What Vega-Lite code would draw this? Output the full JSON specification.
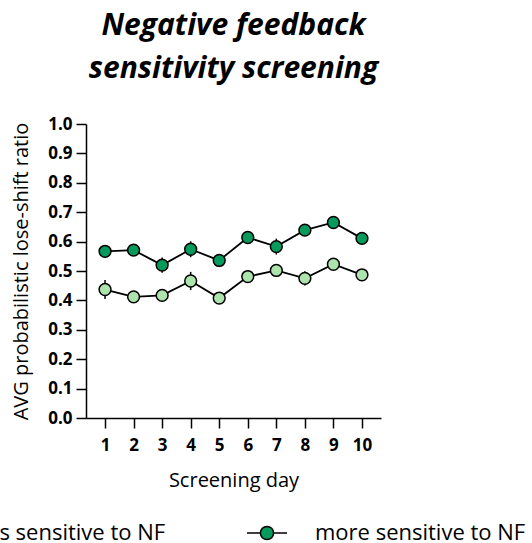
{
  "$schema": "https://vega.github.io/schema/vega-lite/v6.json",
  "autosize": "none",
  "width": 295,
  "height": 294,
  "padding": {"left": 86, "top": 124, "right": 151, "bottom": 125},
  "background": "white",
  "title": {
    "text": ["Negative feedback", "sensitivity screening"],
    "font": "Open Sans",
    "fontSize": 30,
    "fontWeight": "bold",
    "fontStyle": "italic",
    "lineHeight": 43,
    "anchor": "middle",
    "color": "black",
    "offset": 31
  },
  "config": {
    "view": {"stroke": null},
    "axis": {
      "domainColor": "black",
      "domainWidth": 1.5,
      "tickColor": "black",
      "tickWidth": 1.5,
      "tickSize": 10,
      "grid": false,
      "labelOverlap": false,
      "labelFont": "Open Sans",
      "labelFontWeight": "bold",
      "labelFontSize": 17,
      "labelColor": "black",
      "titleFont": "Open Sans",
      "titleFontWeight": "normal",
      "titleFontSize": 20,
      "titleColor": "black"
    }
  },
  "data": {
    "values": [
      {"day": 1, "group": "less sensitive to NF", "mean": 0.437, "lo": 0.405, "hi": 0.469},
      {"day": 2, "group": "less sensitive to NF", "mean": 0.412, "lo": 0.397, "hi": 0.427},
      {"day": 3, "group": "less sensitive to NF", "mean": 0.417, "lo": 0.401, "hi": 0.433},
      {"day": 4, "group": "less sensitive to NF", "mean": 0.466, "lo": 0.435, "hi": 0.497},
      {"day": 5, "group": "less sensitive to NF", "mean": 0.408, "lo": 0.393, "hi": 0.423},
      {"day": 6, "group": "less sensitive to NF", "mean": 0.481, "lo": 0.459, "hi": 0.503},
      {"day": 7, "group": "less sensitive to NF", "mean": 0.502, "lo": 0.486, "hi": 0.518},
      {"day": 8, "group": "less sensitive to NF", "mean": 0.475, "lo": 0.451, "hi": 0.499},
      {"day": 9, "group": "less sensitive to NF", "mean": 0.523, "lo": 0.506, "hi": 0.540},
      {"day": 10, "group": "less sensitive to NF", "mean": 0.487, "lo": 0.471, "hi": 0.503},
      {"day": 1, "group": "more sensitive to NF", "mean": 0.567, "lo": 0.549, "hi": 0.585},
      {"day": 2, "group": "more sensitive to NF", "mean": 0.571, "lo": 0.554, "hi": 0.588},
      {"day": 3, "group": "more sensitive to NF", "mean": 0.520, "lo": 0.494, "hi": 0.546},
      {"day": 4, "group": "more sensitive to NF", "mean": 0.574, "lo": 0.547, "hi": 0.601},
      {"day": 5, "group": "more sensitive to NF", "mean": 0.536, "lo": 0.516, "hi": 0.556},
      {"day": 6, "group": "more sensitive to NF", "mean": 0.614, "lo": 0.596, "hi": 0.632},
      {"day": 7, "group": "more sensitive to NF", "mean": 0.583, "lo": 0.556, "hi": 0.610},
      {"day": 8, "group": "more sensitive to NF", "mean": 0.639, "lo": 0.621, "hi": 0.657},
      {"day": 9, "group": "more sensitive to NF", "mean": 0.665, "lo": 0.648, "hi": 0.682},
      {"day": 10, "group": "more sensitive to NF", "mean": 0.611, "lo": 0.595, "hi": 0.627}
    ]
  },
  "encoding": {
    "x": {
      "field": "day",
      "type": "quantitative",
      "scale": {"domain": [0.333, 10.667], "nice": false, "zero": false},
      "axis": {
        "values": [1, 2, 3, 4, 5, 6, 7, 8, 9, 10],
        "format": "d",
        "labelPadding": 9,
        "title": "Screening day",
        "titlePadding": 17
      }
    }
  },
  "layer": [
    {
      "mark": {"type": "line", "color": "black", "strokeWidth": 1.8},
      "encoding": {
        "y": {
          "field": "mean",
          "type": "quantitative",
          "scale": {"domain": [0, 1], "nice": false},
          "axis": {
            "values": [0, 0.1, 0.2, 0.3, 0.4, 0.5, 0.6, 0.7, 0.8, 0.9, 1.0],
            "format": ".1f",
            "labelPadding": 4,
            "labelOverlap": false,
            "title": "AVG probabilistic lose-shift ratio",
            "titlePadding": 16
          }
        },
        "detail": {"field": "group"},
        "order": {"field": "day"}
      }
    },
    {
      "mark": {"type": "rule", "color": "black", "strokeWidth": 1.5},
      "encoding": {
        "y": {
          "field": "lo",
          "type": "quantitative",
          "scale": {"domain": [0, 1], "nice": false},
          "axis": {
            "values": [0, 0.1, 0.2, 0.3, 0.4, 0.5, 0.6, 0.7, 0.8, 0.9, 1.0],
            "format": ".1f",
            "labelPadding": 4,
            "labelOverlap": false,
            "title": "AVG probabilistic lose-shift ratio",
            "titlePadding": 16
          }
        },
        "y2": {"field": "hi"}
      }
    },
    {
      "mark": {"type": "point", "filled": true, "size": 140, "stroke": "black", "strokeWidth": 1.5, "opacity": 1},
      "encoding": {
        "y": {
          "field": "mean",
          "type": "quantitative",
          "scale": {"domain": [0, 1], "nice": false},
          "axis": {
            "values": [0, 0.1, 0.2, 0.3, 0.4, 0.5, 0.6, 0.7, 0.8, 0.9, 1.0],
            "format": ".1f",
            "labelPadding": 4,
            "labelOverlap": false,
            "title": "AVG probabilistic lose-shift ratio",
            "titlePadding": 16
          }
        },
        "fill": {
          "field": "group",
          "type": "nominal",
          "scale": {"domain": ["less sensitive to NF", "more sensitive to NF"], "range": ["#ade3ad", "#079a5d"]},
          "legend": {
            "title": null,
            "orient": "none",
            "legendX": -184,
            "legendY": 388,
            "direction": "horizontal",
            "columns": 2,
            "columnPadding": 78,
            "labelOffset": 27,
            "labelFont": "Open Sans",
            "labelFontSize": 22,
            "labelColor": "black",
            "labelLimit": 400,
            "symbolType": "M-1,0L-0.33,0M0.33,0L1,0M-0.33,0A0.33,0.33,0,1,0,0.33,0A0.33,0.33,0,1,0,-0.33,0Z",
            "symbolSize": 1600,
            "symbolStrokeColor": "black",
            "symbolStrokeWidth": 1.5,
            "symbolOpacity": 1
          }
        }
      }
    }
  ]
}
